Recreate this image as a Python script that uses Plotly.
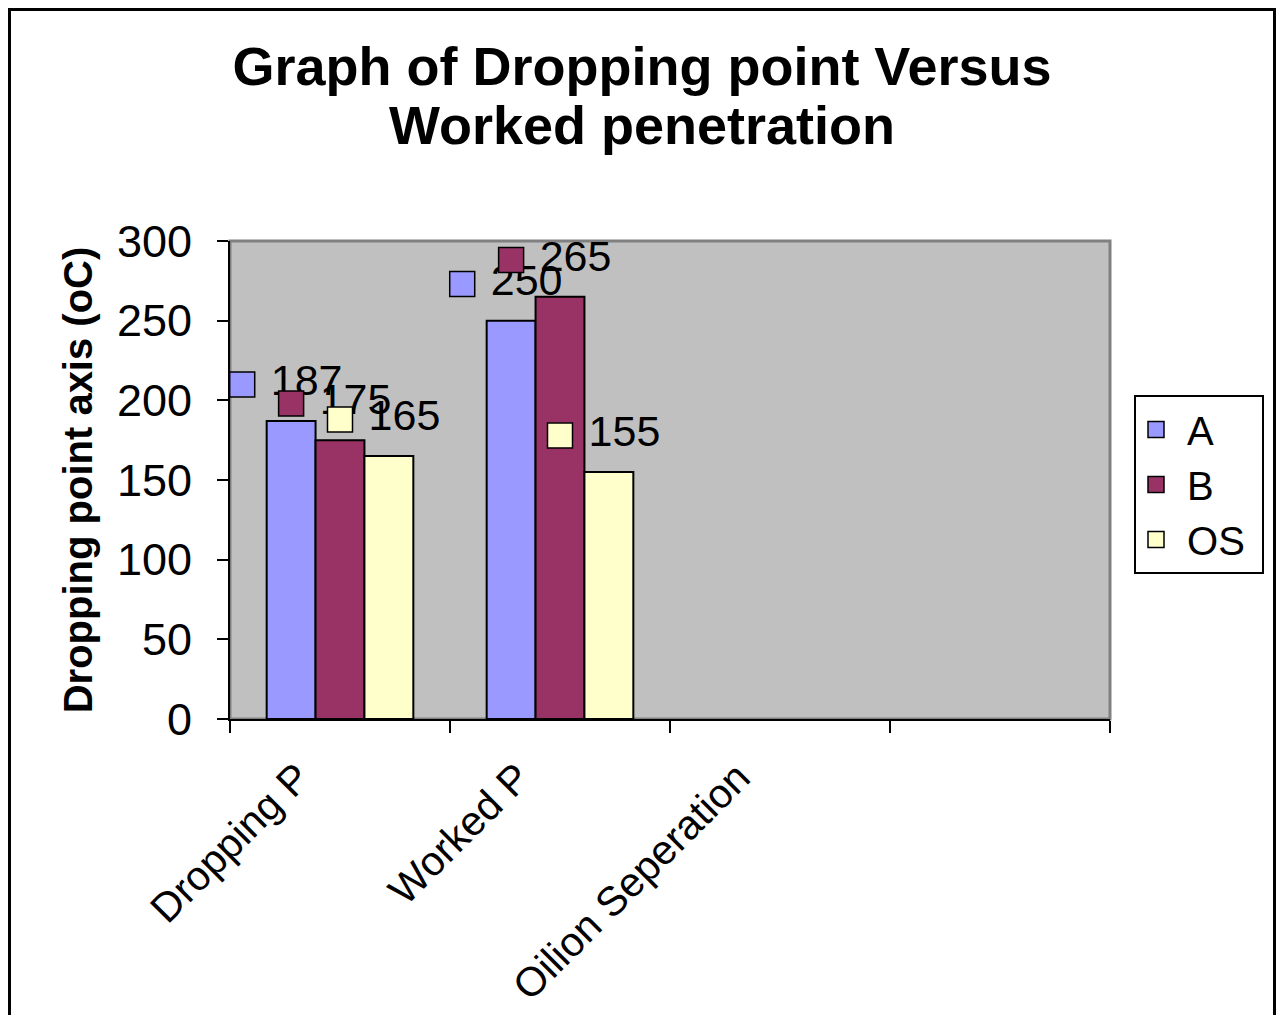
import plotly.graph_objects as go

# ---- data ----
categories = ["Dropping P", "Worked P", "Oilion Seperation", ""]
series_names = ["A", "B", "OS"]
values_A = [187, 250, None, None]
values_B = [175, 265, None, None]
values_OS = [165, 155, None, None]
y_ticks = [0, 50, 100, 150, 200, 250, 300]
title_lines = ["Graph of Dropping point Versus", "Worked penetration"]

colors = ["#9999FF", "#993366", "#FFFFCC"]
FONT = "Liberation Sans, Arial, sans-serif"
W, H = 1268, 1007
L, R, T, B = 222, 166, 233, 296
PW, PH = W - L - R, H - T - B

n_series = 3
bargap = 1 / 3
bar_w = (1 - bargap) / n_series
label_offset = 23  # data-label sits above bar top

x_idx = list(range(len(categories)))
fig = go.Figure()

all_vals = [values_A, values_B, values_OS]
for j, (name, vals, col) in enumerate(zip(series_names, all_vals, colors)):
    fig.add_trace(go.Bar(
        x=x_idx, y=vals, name=name, marker=dict(color=col, line=dict(color="black", width=2)),
        showlegend=False, hoverinfo="y",
    ))

for j, (name, vals, col) in enumerate(zip(series_names, all_vals, colors)):
    off = (j - (n_series - 1) / 2) * bar_w - bar_w
    xs = [i + off for i, v in zip(x_idx, vals) if v is not None]
    ys = [v + label_offset for v in vals if v is not None]
    tx = ["\u00a0" + str(v) for v in vals if v is not None]
    fig.add_trace(go.Scatter(
        x=xs, y=ys, mode="markers+text", text=tx, textposition="middle right",
        textfont=dict(family=FONT, size=43, color="black"),
        marker=dict(symbol="square", size=25, color=col, line=dict(color="black", width=1.5)),
        showlegend=False, hoverinfo="skip", cliponaxis=False,
    ))

for name, col in zip(series_names, colors):
    fig.add_trace(go.Scatter(
        x=[None], y=[None], mode="markers", name="\u00a0" + name + "\u00a0",
        marker=dict(symbol="square", size=22, color=col, line=dict(color="black", width=1.5)),
    ))

fig.update_layout(
    width=W, height=H,
    margin=dict(l=L, r=R, t=T, b=B, autoexpand=False),
    paper_bgcolor="white", plot_bgcolor="#C0C0C0",
    barmode="group", bargap=bargap, bargroupgap=0,
    font=dict(family=FONT, color="black"),
    title=dict(
        text="<b>" + title_lines[0] + "</b>",
        x=(642 - 8) / W, xref="container", xanchor="center",
        y=1 - 58 / H, yref="container", yanchor="middle",
        font=dict(family=FONT, size=54, color="black"),
    ),
    annotations=[dict(
        text="<b>" + title_lines[1] + "</b>", xref="paper", yref="paper",
        x=(642 - 8 - L) / PW, y=(H - B - 117) / PH, xanchor="center", yanchor="middle",
        showarrow=False, font=dict(family=FONT, size=54, color="black"),
    )],
    xaxis=dict(
        range=[-0.5, len(categories) - 0.5], tickmode="array", tickvals=x_idx, ticktext=categories,
        ticks="", tickangle=-45, tickfont=dict(family=FONT, size=41),
        ticklabelshift=-42, ticklabelstandoff=16, automargin=False,
        showline=True, linecolor="black", linewidth=2, showgrid=False, zeroline=False,
        minor=dict(tickmode="array", tickvals=[i - 0.5 for i in range(len(categories) + 1)],
                   ticks="outside", ticklen=12, tickwidth=2, tickcolor="black", showgrid=False),
        fixedrange=True,
    ),
    yaxis=dict(
        range=[0, 300], tickmode="array", tickvals=y_ticks,
        ticks="outside", ticklen=11, tickwidth=2, tickcolor="black",
        tickfont=dict(family=FONT, size=45), ticklabelstandoff=16, automargin=False,
        showline=True, linecolor="black", linewidth=2, showgrid=False, zeroline=False,
        title=dict(text="<b>Dropping point axis (oC)</b>", font=dict(family=FONT, size=40), standoff=12),
        fixedrange=True,
    ),
    legend=dict(
        x=(1126 - L) / PW, y=(H - B - 387) / PH, xanchor="left", yanchor="top",
        bgcolor="white", bordercolor="black", borderwidth=2,
        font=dict(family=FONT, size=40, color="black"), itemsizing="trace",
        tracegroupgap=0,
    ),
    shapes=[
        dict(type="rect", xref="paper", yref="paper", x0=0, y0=0, x1=1, y1=1,
             line=dict(color="#808080", width=3), layer="below"),
        dict(type="rect", xref="paper", yref="paper",
             x0=(-L + 1.5) / PW, x1=(W - 1.5 - L) / PW,
             y0=-2, y1=(PH + T - 1.5) / PH,
             line=dict(color="black", width=3)),
    ],
)

fig.write_html("out.html")
